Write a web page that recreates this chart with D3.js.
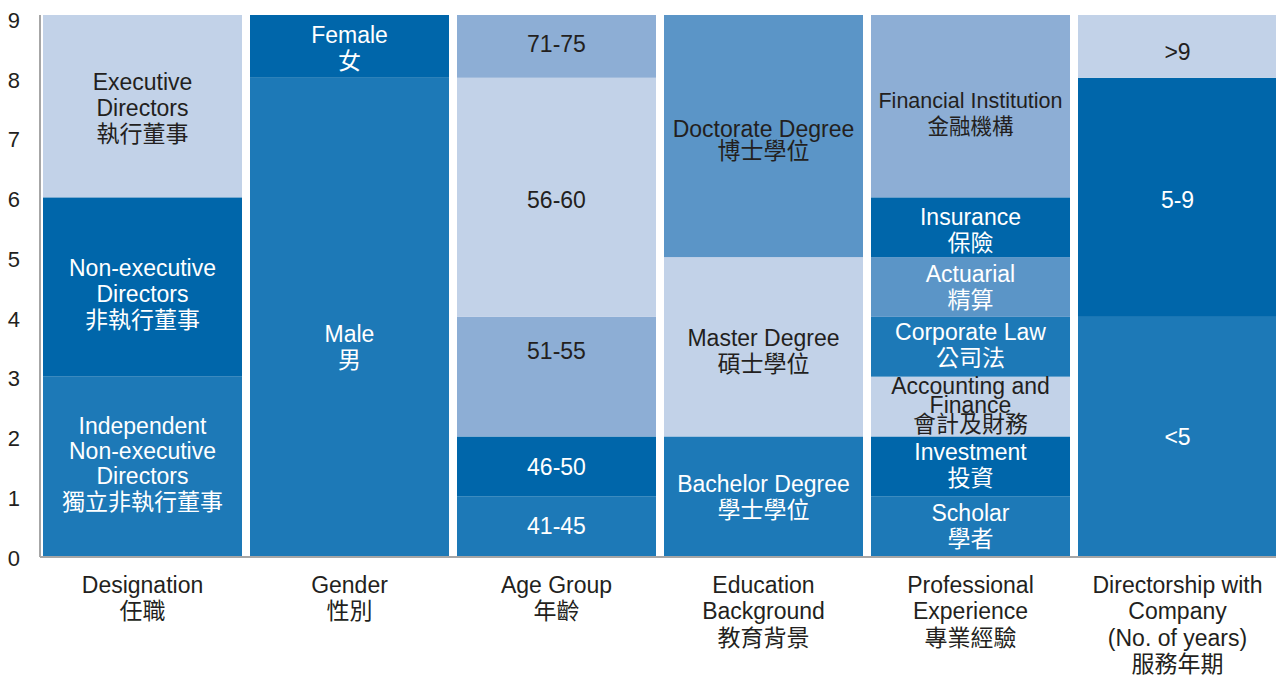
<!DOCTYPE html>
<html>
<head>
<meta charset="utf-8">
<script src="https://d3js.org/d3.v7.min.js"></script>
<style>
  body { margin: 0; background: #fff; }
  text { font-family: "Liberation Sans", Arial, "Noto Sans CJK TC", sans-serif; }
  .axis line, .axis path { stroke: #a6a6a6; stroke-width: 2px; }
</style>
</head>
<body>
<script>
// categories along the x axis (lines split by \n)
var categories = [
  "Designation\n任職",
  "Gender\n性別",
  "Age Group\n年齡",
  "Education\nBackground\n教育背景",
  "Professional\nExperience\n專業經驗",
  "Directorship with\nCompany\n(No. of years)\n服務年期"
];

// stacked segments, bottom to top: [label, count]
var designation = [
  ["Independent\nNon-executive\nDirectors\n獨立非執行董事", 3],
  ["Non-executive\nDirectors\n非執行董事", 3],
  ["Executive\nDirectors\n執行董事", 3]
];
var gender = [
  ["Male\n男", 8],
  ["Female\n女", 1]
];
var ageGroup = [
  ["41-45", 1],
  ["46-50", 1],
  ["51-55", 2],
  ["56-60", 4],
  ["71-75", 1]
];
var education = [
  ["Bachelor Degree\n學士學位", 2],
  ["Master Degree\n碩士學位", 3],
  ["Doctorate Degree\n博士學位", 4]
];
var professional = [
  ["Scholar\n學者", 1],
  ["Investment\n投資", 1],
  ["Accounting and\nFinance\n會計及財務", 1],
  ["Corporate Law\n公司法", 1],
  ["Actuarial\n精算", 1],
  ["Insurance\n保險", 1],
  ["Financial Institution\n金融機構", 3]
];
var directorship = [
  ["<5", 4],
  ["5-9", 4],
  [">9", 1]
];
var yTicks = [0, 1, 2, 3, 4, 5, 6, 7, 8, 9];

var series = [designation, gender, ageGroup, education, professional, directorship];

// colour of each segment (fill, text)
var MED = "#1d79b7", DARK = "#0066aa", LIGHT = "#c2d2e8", LMID = "#8daed5", MID = "#5b95c7";
var INK = "#231f20", WHITE = "#ffffff";
var tone = {
  "Independent": [MED, WHITE], "Non-executive": [DARK, WHITE], "Executive": [LIGHT, INK],
  "Male": [MED, WHITE], "Female": [DARK, WHITE],
  "41-45": [MED, WHITE], "46-50": [DARK, WHITE], "51-55": [LMID, INK], "56-60": [LIGHT, INK], "71-75": [LMID, INK],
  "Bachelor Degree": [MED, WHITE], "Master Degree": [LIGHT, INK], "Doctorate Degree": [MID, INK],
  "Scholar": [MED, WHITE], "Investment": [DARK, WHITE], "Accounting and": [LIGHT, INK],
  "Corporate Law": [MED, WHITE], "Actuarial": [MID, WHITE], "Insurance": [DARK, WHITE],
  "Financial Institution": [LMID, INK],
  "<5": [MED, WHITE], "5-9": [DARK, WHITE], ">9": [LIGHT, INK]
};
// small label nudges (px) and tighter line spacing where the original squeezes text
var nudge = {
  "Non-executive": 7, "Independent": -3, "Male": 30, "71-75": -4, "51-55": -26, "56-60": 2,
  "Doctorate Degree": 2, "Master Degree": 4, "Financial Institution": 6, "Insurance": 2,
  "Corporate Law": -2, "Accounting and": -2, "Investment": -2, ">9": 4, "5-9": 2
};
var tight = { "Doctorate Degree": 22, "Accounting and": 19, "Independent": 25.3 };
var smaller = { "Financial Institution": 21.5 };

var width = 1276, height = 675;
var svg = d3.select("body").append("svg")
  .attr("width", width)
  .attr("height", height);

var x = d3.scaleBand()
  .domain(d3.range(categories.length))
  .range([39, 1281])
  .paddingInner(8 / 207)
  .paddingOuter(4 / 207);

var y = d3.scaleLinear().domain([0, 9]).range([556, 18]);

var fontSize = 23;

// bars
series.forEach(function (segs, i) {
  var base = 0;
  var stacked = segs.map(function (s) {
    var d = { label: s[0], y0: base, y1: base + s[1] };
    base += s[1];
    return d;
  });

  var g = svg.append("g");
  g.selectAll("rect")
    .data(stacked)
    .enter().append("rect")
    .attr("x", x(i))
    .attr("width", x.bandwidth())
    .attr("y", function (d) { return d.y1 === 9 ? 15 : y(d.y1); })
    .attr("height", function (d) { return y(d.y0) - (d.y1 === 9 ? 15 : y(d.y1)); })
    .attr("fill", function (d) { return tone[d.label.split("\n")[0]][0]; });

  stacked.forEach(function (d) {
    var lines = d.label.split("\n");
    var key = lines[0];
    var gap = tight[key] || 26;
    var cy = (y(d.y0) + y(d.y1)) / 2 + (nudge[key] || 0);
    var top = cy - (lines.length - 1) * gap / 2;
    var t = g.append("text")
      .attr("text-anchor", "middle")
      .attr("font-size", smaller[key] || fontSize)
      .attr("fill", tone[key][1]);
    lines.forEach(function (ln, k) {
      t.append("tspan")
        .attr("x", x(i) + x.bandwidth() / 2)
        .attr("y", top + k * gap)
        .attr("dy", "0.36em")
        .text(ln);
    });
  });
});

// axes
var yAxis = svg.append("g")
  .attr("class", "axis")
  .attr("transform", "translate(40,0)")
  .call(d3.axisLeft(y).tickValues(yTicks).tickSize(0).tickPadding(20));
yAxis.select(".domain").attr("d", "M0,15V" + (y(0) + 1));
yAxis.selectAll("text")
  .attr("font-size", 22)
  .attr("fill", INK)
  .attr("dy", "0.42em")
  .attr("font-family", "Liberation Sans, Arial, sans-serif");

var xAxis = svg.append("g")
  .attr("class", "axis")
  .attr("transform", "translate(0," + (y(0) + 1) + ")")
  .call(d3.axisBottom(x).tickSize(0).tickFormat(""));
xAxis.select(".domain").attr("d", "M40,0H" + width);

// category labels
categories.forEach(function (c, i) {
  var t = svg.append("text")
    .attr("text-anchor", "middle")
    .attr("font-size", fontSize)
    .attr("fill", INK);
  c.split("\n").forEach(function (ln, k) {
    t.append("tspan")
      .attr("x", x(i) + x.bandwidth() / 2)
      .attr("y", 585 + k * 26.2)
      .attr("dy", "0.36em")
      .text(ln);
  });
});
</script>
</body>
</html>
